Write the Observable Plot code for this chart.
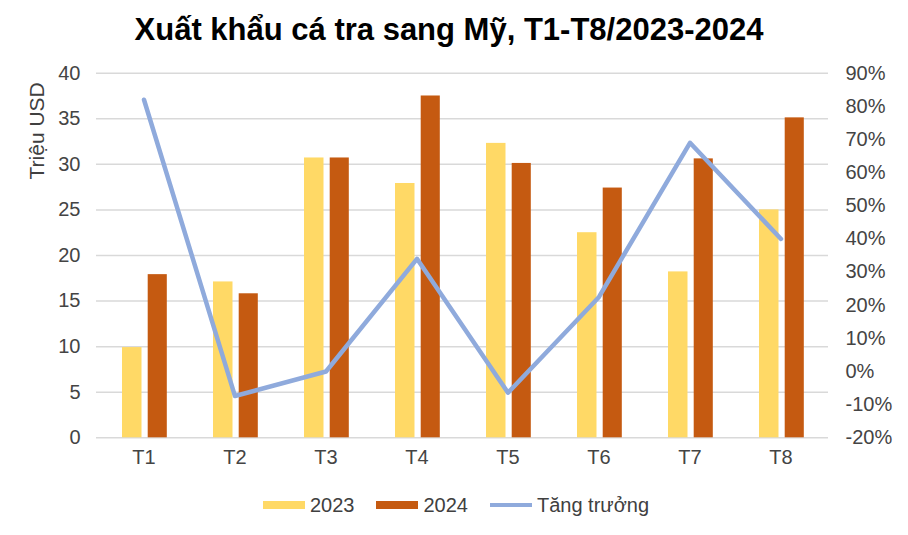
<!DOCTYPE html>
<html>
<head>
<meta charset="utf-8">
<script src="https://cdn.jsdelivr.net/npm/d3@7"></script>
<script src="https://cdn.jsdelivr.net/npm/@observablehq/plot@0.6"></script>
<style>
  body { margin: 0; background: #fff; font-family: "Liberation Sans", Arial, sans-serif; }
  #wrap { width: 908px; height: 535px; position: relative; overflow: hidden; }
  #title { height: 60px; line-height: 60px; text-align: center; font-weight: bold; font-size: 31px; color: #000; padding-right: 10px; }
  #legend { display: flex; justify-content: center; align-items: center; height: 60px; font-size: 20px; color: #404040; padding-left: 4px; }
  .item { display: flex; align-items: center; margin: 0 11px; }
  .sw { width: 42px; margin-right: 5px; }
</style>
</head>
<body>
<div id="wrap">
  <div id="title">Xuất khẩu cá tra sang Mỹ, T1-T8/2023-2024</div>
  <div id="chart"></div>
  <div id="legend"></div>
</div>
<script>
const months = ["T1", "T2", "T3", "T4", "T5", "T6", "T7", "T8"];
const v2023 = [9.9, 17.1, 30.7, 27.9, 32.3, 22.5, 18.2, 25.0];
const v2024 = [17.9, 15.8, 30.7, 37.5, 30.1, 27.4, 30.6, 35.1];
const growth = [82, -7.4, 0, 34, -6.4, 22.5, 69, 40]; // %
const leftTicks = [0, 5, 10, 15, 20, 25, 30, 35, 40];
const rightTicks = [-20, -10, 0, 10, 20, 30, 40, 50, 60, 70, 80, 90];
const seriesNames = ["2023", "2024", "Tăng trưởng"];
const colors = ["#FFD966", "#C55A11", "#8FAADC"];

const data = months.map((m, i) => ({ month: m, v2023: v2023[i], v2024: v2024[i], growth: growth[i] }));
const g2y = d3.scaleLinear([-20, 90], [0, 40]);

const chart = Plot.plot({
  width: 908,
  height: 415,
  marginTop: 12.7,
  marginBottom: 37.7,
  marginLeft: 96,
  marginRight: 80,
  style: { fontFamily: "'Liberation Sans', Arial, sans-serif", fontSize: "20px", color: "#444", background: "#fff" },
  x: { domain: months, padding: 0 },
  y: { domain: [0, 40] },
  marks: [
    Plot.gridY(leftTicks, { stroke: "#D9D9D9", strokeOpacity: 1, strokeWidth: 1.5 }),
    Plot.barY(data, { x: "month", y: "v2023", fill: colors[0], insetLeft: 24, insetRight: 47.5 }),
    Plot.barY(data, { x: "month", y: "v2024", fill: colors[1], insetLeft: 49.7, insetRight: 22.2 }),
    Plot.lineY(data, { x: "month", y: d => g2y(d.growth), stroke: colors[2], strokeWidth: 4.5 }),
    Plot.axisY(leftTicks, { anchor: "left", tickSize: 0, tickPadding: 16, label: null }),
    Plot.axisY(rightTicks.map(g2y), { anchor: "right", tickSize: 0, tickPadding: 17, textAnchor: "start", tickFormat: d => Math.round(g2y.invert(d)) + "%", label: null }),
    Plot.axisX({ tickSize: 0, tickPadding: 12, label: null }),
    Plot.text(["Triệu USD"], { frameAnchor: "top-left", rotate: -90, textAnchor: "end", lineAnchor: "middle", dx: -59, dy: 9, fill: "#404040", fontSize: 21 })
  ]
});
document.getElementById("chart").appendChild(chart);

const legend = document.getElementById("legend");
seriesNames.forEach((name, i) => {
  const item = document.createElement("div");
  item.className = "item";
  const sw = document.createElement("div");
  sw.className = "sw";
  sw.style.background = colors[i];
  sw.style.height = i < 2 ? "8px" : "4px";
  const t = document.createElement("span");
  t.textContent = name;
  item.appendChild(sw);
  item.appendChild(t);
  legend.appendChild(item);
});
</script>
</body>
</html>
